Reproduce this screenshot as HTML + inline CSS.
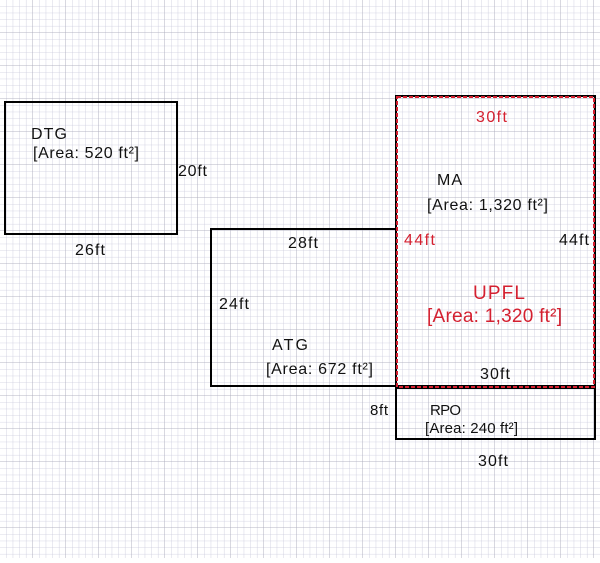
<!DOCTYPE html>
<html><head><meta charset="utf-8"><style>
body{margin:0;width:600px;height:558px;overflow:hidden;background:#fff;font-family:"Liberation Sans",sans-serif;}
</style></head><body>
<svg width="600" height="558" xmlns="http://www.w3.org/2000/svg">
<defs>
<pattern id="g" width="6.6" height="6.6" patternUnits="userSpaceOnUse">
<path d="M6.6 0V6.6M0 6.6H6.6" stroke="#c9c9dc" stroke-width="0.8" fill="none"/>
</pattern>
<pattern id="G" width="33" height="33" patternUnits="userSpaceOnUse">
<path d="M33 0V33M0 33H33" stroke="#a9a9b8" stroke-width="0.8" fill="none"/>
</pattern>
</defs>
<rect width="600" height="558" fill="url(#g)"/>
<rect width="600" height="558" fill="url(#G)"/>
<g fill="none" stroke="#000" stroke-width="2">
<rect x="5" y="102" width="172" height="132"/>
<rect x="211" y="229" width="185" height="157"/>
<rect x="396" y="96" width="199" height="290"/>
<rect x="396" y="388" width="199" height="51"/>
</g>
<rect x="397" y="97" width="197" height="290" fill="none" stroke="#d42030" stroke-width="2" stroke-dasharray="4,2"/>
<g font-size="16" fill="#111">
<text x="31" y="139" textLength="36">DTG</text>
<text x="33" y="158" textLength="106">[Area: 520 ft²]</text>
<text x="178" y="176" textLength="29">20ft</text>
<text x="75" y="255" textLength="30">26ft</text>
<text x="288" y="248" textLength="30">28ft</text>
<text x="219" y="309" textLength="30">24ft</text>
<text x="272" y="350" textLength="36">ATG</text>
<text x="266" y="374" textLength="107">[Area: 672 ft²]</text>
<text x="437" y="185" textLength="25">MA</text>
<text x="427" y="210" textLength="121">[Area: 1,320 ft²]</text>
<text x="559" y="245" textLength="30">44ft</text>
<text x="480" y="379" textLength="30">30ft</text>
<text x="478" y="466" textLength="30">30ft</text>
</g>
<g font-size="15" fill="#111">
<text x="370" y="415" textLength="18">8ft</text>
<text x="430" y="415" textLength="31">RPO</text>
<text x="425" y="433" textLength="93">[Area: 240 ft²]</text>
</g>
<g fill="#d42030">
<text x="476" y="122" font-size="16" textLength="31">30ft</text>
<text x="404" y="245" font-size="16" textLength="31">44ft</text>
<text x="473" y="299" font-size="19" textLength="52">UPFL</text>
<text x="427" y="322" font-size="19" textLength="135">[Area: 1,320 ft²]</text>
</g>
</svg>
</body></html>
